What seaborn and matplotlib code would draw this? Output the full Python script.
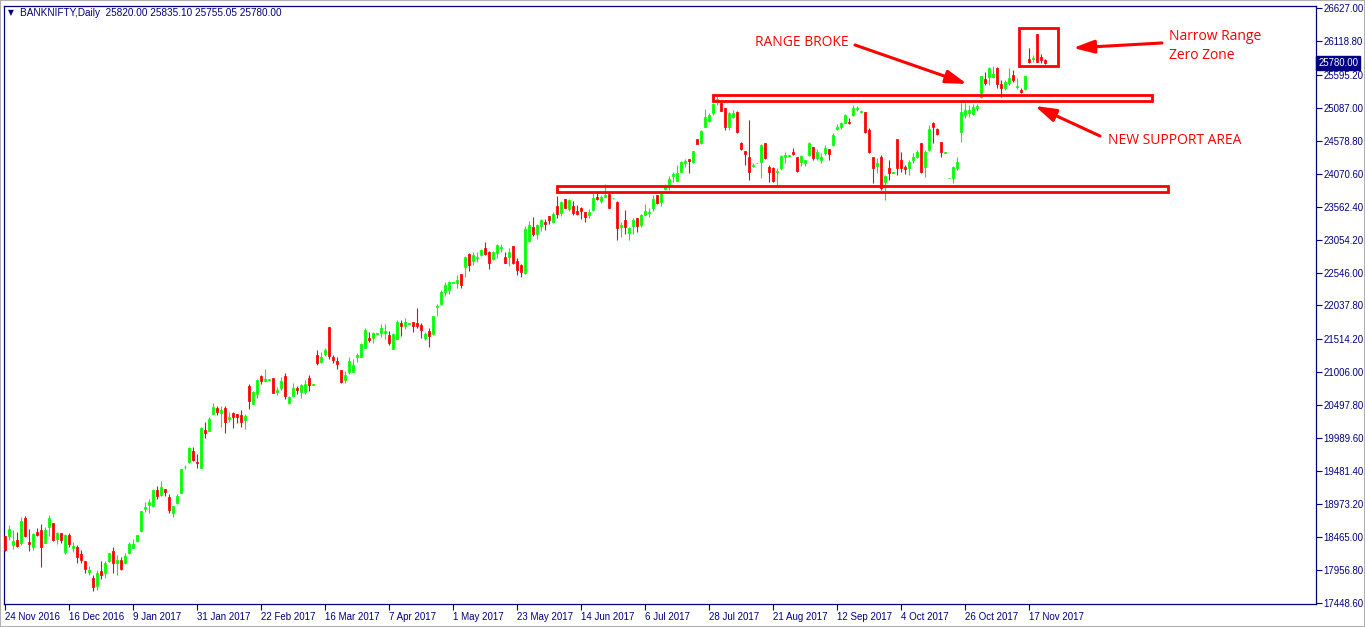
import numpy as np
import pandas as pd
import matplotlib
matplotlib.use("Agg")
import matplotlib.pyplot as plt
import seaborn as sns
from matplotlib.patches import Rectangle

SYMBOL = "BANKNIFTY,Daily"
header_ohlc = [25820.00, 25835.10, 25755.05, 25780.00]

# daily candles (bar 0 = 24 Nov 2016)
opens = [
    18483, 18483, 18344, 18421, 18379, 18760, 18390, 18317, 18544, 18575,
    18379, 18626, 18683, 18436, 18529, 18235, 18498, 18302, 18312, 18204,
    18097, 17932, 17835, 17711, 17943, 17907, 18097, 18251, 18066, 18112,
    18061, 18215, 18302, 18410, 18560, 18899, 18961, 18950, 19192, 19115,
    19207, 19084, 18832, 18992, 19150, 19542, 19629, 19794, 19624, 19536,
    20117, 20096, 20360, 20452, 20385, 20452, 20287, 20375, 20360, 20344,
    20277, 20796, 20523, 20677, 20950, 20873, 20894, 20919, 20708, 20770,
    20950, 20538, 20646, 20770, 20708, 20708, 20919, 20816, 21274, 21171,
    21289, 21706, 21243, 21181, 21043, 20889, 21012, 21012, 21248, 21248,
    21387, 21537, 21537, 21603, 21614, 21614, 21583, 21367, 21526, 21768,
    21722, 21757, 21783, 21768, 21737, 21541, 21645, 21598, 22014, 22061,
    22246, 22277, 22390, 22385, 22524, 22632, 22832, 22724, 22776, 22817,
    22925, 22863, 22755, 22848, 22930, 22786, 22786, 22956, 22724, 22662,
    22539, 23033, 23248, 23140, 23264, 23326, 23418, 23326, 23573, 23465,
    23681, 23526, 23573, 23495, 23542, 23480, 23434, 23511, 23711, 23650,
    23711, 23758, 23690, 23634, 23248, 23357, 23156, 23264, 23387, 23279,
    23434, 23465, 23542, 23742, 23634, 23835, 23912, 24035, 23958, 24097,
    24236, 24298, 24251, 24606, 24544, 24791, 24884, 25007, 25208, 25161,
    25084, 24791, 24945, 25023, 24544, 24421, 24328, 24189, 24236, 24251,
    24544, 24174, 24159, 24097, 24159, 24328, 24348, 24406, 24328, 24251,
    24236, 24359, 24483, 24313, 24282, 24390, 24452, 24514, 24760, 24791,
    24853, 24868, 24976, 25069, 25023, 25023, 24745, 24328, 24189, 24328,
    23943, 24159, 24081, 24606, 24282, 24174, 24159, 24282, 24328, 24544,
    24174, 24436, 24853, 24760, 24560, 24390, 23997, 24004, 24159, 24714,
    24976, 25007, 24992, 25084, 25254, 25532, 25562, 25562, 25701, 25454,
    25393, 25470, 25593, 25408, 25362, 25377, 25840, 25840, 26226, 25871,
    25820,
]
highs = [
    18483, 18652, 18575, 18544, 18775, 18791, 18590, 18524, 18606, 18668,
    18626, 18806, 18683, 18544, 18529, 18513, 18524, 18390, 18344, 18266,
    18097, 18020, 17881, 17958, 18097, 18097, 18220, 18317, 18189, 18163,
    18225, 18390, 18436, 18498, 18868, 19007, 19053, 19207, 19254, 19331,
    19207, 19130, 18945, 19126, 19516, 19577, 19855, 19855, 19747, 20164,
    20246, 20323, 20538, 20488, 20488, 20488, 20390, 20390, 20360, 20426,
    20360, 20827, 20723, 20904, 20965, 21058, 20904, 20919, 20781, 20935,
    20996, 20646, 20842, 20801, 20827, 20889, 20965, 20827, 21351, 21320,
    21382, 21706, 21274, 21243, 21043, 21027, 21243, 21212, 21305, 21459,
    21691, 21629, 21629, 21614, 21753, 21753, 21645, 21614, 21814, 21814,
    21845, 21768, 21783, 21999, 21768, 21629, 21691, 21876, 22061, 22277,
    22400, 22416, 22400, 22508, 22524, 22801, 22848, 22863, 22863, 22909,
    23017, 22878, 22878, 22986, 22986, 22863, 22925, 22956, 22770, 22678,
    23264, 23341, 23403, 23295, 23372, 23372, 23418, 23480, 23727, 23650,
    23681, 23681, 23650, 23588, 23557, 23480, 23526, 23773, 23773, 23742,
    23912, 23758, 23696, 23650, 23326, 23511, 23248, 23387, 23387, 23449,
    23604, 23542, 23742, 23742, 23804, 23912, 24035, 24097, 24205, 24267,
    24298, 24298, 24421, 24606, 24745, 25069, 25007, 25161, 25269, 25177,
    25084, 25023, 25053, 25038, 24560, 24421, 24899, 24236, 24243, 24529,
    24544, 24205, 24174, 24159, 24359, 24406, 24359, 24467, 24328, 24359,
    24282, 24560, 24483, 24452, 24390, 24514, 24452, 24699, 24837, 24868,
    24992, 24930, 25130, 25115, 25053, 25023, 24776, 24328, 24313, 24359,
    24050, 24282, 24089, 24606, 24406, 24205, 24282, 24390, 24436, 24544,
    24436, 24822, 24868, 24776, 24560, 24398, 24004, 24189, 24328, 25161,
    25161, 25130, 25146, 25146, 25578, 25639, 25717, 25732, 25717, 25516,
    25516, 25701, 25670, 25547, 25393, 25578, 26010, 25902, 26226, 25917,
    25835,
]
lows = [
    18255, 18421, 18281, 18317, 18344, 18472, 18251, 18266, 18483, 18009,
    18369, 18483, 18406, 18364, 18369, 18204, 18317, 18240, 18070, 18061,
    17907, 17881, 17638, 17649, 17824, 17835, 18081, 17917, 17881, 17958,
    18050, 18204, 18302, 18395, 18544, 18852, 18837, 18935, 19048, 19104,
    19104, 18832, 18770, 18971, 19141, 19516, 19613, 19644, 19526, 19536,
    19999, 20096, 20360, 20349, 20169, 20076, 20246, 20153, 20221, 20169,
    20138, 20441, 20523, 20615, 20831, 20863, 20894, 20692, 20662, 20739,
    20600, 20523, 20631, 20677, 20615, 20677, 20723, 20816, 21120, 21146,
    21258, 21212, 21155, 21058, 20842, 20842, 20981, 21012, 21166, 21243,
    21387, 21475, 21459, 21603, 21552, 21521, 21429, 21367, 21526, 21567,
    21675, 21757, 21634, 21691, 21541, 21506, 21402, 21583, 21876, 22045,
    22184, 22215, 22390, 22308, 22308, 22477, 22570, 22662, 22709, 22801,
    22817, 22601, 22740, 22770, 22863, 22693, 22647, 22678, 22508, 22477,
    22524, 23017, 23110, 23063, 23187, 23202, 23295, 23310, 23387, 23418,
    23542, 23495, 23434, 23434, 23372, 23326, 23387, 23495, 23665, 23619,
    23711, 23542, 23686, 23048, 23094, 23140, 23048, 23140, 23171, 23248,
    23418, 23403, 23495, 23604, 23573, 23819, 23819, 23943, 23958, 24097,
    24174, 24081, 24236, 24529, 24529, 24791, 24868, 24976, 25130, 25038,
    24745, 24745, 24930, 24698, 24436, 24205, 23974, 24174, 24236, 24004,
    24298, 23943, 23943, 23896, 24128, 24236, 24348, 24359, 24097, 24189,
    24189, 24344, 24282, 24282, 24236, 24359, 24282, 24498, 24745, 24760,
    24853, 24837, 24961, 25038, 25007, 24698, 24390, 23927, 24081, 23819,
    23665, 23974, 24081, 24050, 24097, 24066, 24050, 24236, 24313, 24081,
    24020, 24421, 24544, 24668, 24328, 24390, 23997, 23927, 24128, 24560,
    24930, 24945, 24976, 25038, 25239, 25439, 25439, 25547, 25393, 25254,
    25362, 25439, 25485, 25377, 25316, 25362, 25778, 25794, 25794, 25778,
    25755,
]
closes = [
    18266, 18590, 18410, 18333, 18714, 18483, 18364, 18513, 18498, 18317,
    18575, 18760, 18421, 18529, 18421, 18498, 18364, 18328, 18163, 18112,
    17973, 17958, 17701, 17912, 17881, 18066, 18220, 18061, 18112, 17973,
    18174, 18359, 18359, 18498, 18868, 18930, 19007, 19192, 19100, 19238,
    19161, 18883, 18945, 19104, 19516, 19552, 19840, 19655, 19613, 20153,
    20076, 20287, 20472, 20395, 20426, 20246, 20318, 20323, 20323, 20246,
    20329, 20569, 20708, 20889, 20873, 20904, 20904, 20692, 20739, 20873,
    20642, 20631, 20765, 20739, 20811, 20827, 20811, 20827, 21146, 21243,
    21351, 21258, 21197, 21135, 20858, 20965, 21181, 21120, 21279, 21444,
    21660, 21506, 21614, 21614, 21691, 21645, 21459, 21598, 21783, 21722,
    21783, 21768, 21722, 21722, 21660, 21598, 21567, 21876, 22030, 22246,
    22354, 22400, 22400, 22431, 22354, 22786, 22662, 22817, 22786, 22894,
    22832, 22693, 22863, 22971, 22940, 22693, 22863, 22693, 22585, 22554,
    23218, 23279, 23140, 23279, 23357, 23295, 23357, 23449, 23449, 23634,
    23542, 23665, 23465, 23449, 23495, 23403, 23480, 23696, 23681, 23711,
    23742, 23542, 23696, 23233, 23279, 23248, 23233, 23357, 23264, 23434,
    23495, 23480, 23681, 23619, 23758, 23881, 23989, 24066, 24081, 24251,
    24267, 24267, 24421, 24529, 24729, 24945, 24976, 25146, 25223, 25038,
    24791, 25007, 25007, 24714, 24452, 24375, 24097, 24205, 24243, 24514,
    24313, 24097, 23958, 24112, 24344, 24359, 24359, 24375, 24112, 24344,
    24282, 24544, 24313, 24406, 24328, 24467, 24375, 24668, 24791, 24853,
    24976, 24853, 25084, 25084, 25038, 24714, 24406, 24159, 24236, 23850,
    24035, 24081, 24089, 24159, 24159, 24143, 24251, 24328, 24406, 24097,
    24406, 24760, 24791, 24683, 24406, 24398, 24004, 24174, 24251, 25023,
    25053, 25053, 25100, 25115, 25578, 25470, 25701, 25609, 25454, 25393,
    25485, 25547, 25516, 25424, 25331, 25578, 25794, 25855, 25794, 25825,
    25780,
]

date_labels = ["24 Nov 2016", "16 Dec 2016", "9 Jan 2017", "31 Jan 2017",
               "22 Feb 2017", "16 Mar 2017", "7 Apr 2017", "1 May 2017",
               "23 May 2017", "14 Jun 2017", "6 Jul 2017", "28 Jul 2017",
               "21 Aug 2017", "12 Sep 2017", "4 Oct 2017", "26 Oct 2017",
               "17 Nov 2017"]
LABEL_STEP = 16  # one date label every 16 bars

price_ticks = [17448.6, 17956.8, 18465.0, 18973.2, 19481.4, 19989.6, 20497.8,
               21006.0, 21514.2, 22037.8, 22546.0, 23054.2, 23562.4, 24070.6,
               24578.8, 25087.0, 25595.2, 26118.8, 26627.0]

NAVY = "#000080"
UP = "#00ff00"
DOWN = "#ff0000"
MARK = "#ff0000"
AXIS_FONT = ["Liberation Sans", "DejaVu Sans"]

# ---------- frame ----------

df = pd.DataFrame({"open": opens, "high": highs, "low": lows, "close": closes})
df["bar"] = np.arange(len(df))
df["color"] = np.where(df["close"] >= df["open"], UP, DOWN)
df["body_lo"] = df[["open", "close"]].min(axis=1)
df["body_h"] = (df["close"] - df["open"]).abs()

sns.set_theme(style="white")
plt.rcParams["font.family"] = AXIS_FONT

W, H = 1365, 627
fig = plt.figure(figsize=(W / 100, H / 100), dpi=100)
fig.patch.set_facecolor("white")
ax = fig.add_axes([3.5 / W, 1 - 604 / H, (1316 - 3.5) / W, (604 - 5.5) / H])
ax.set_facecolor("white")

# ---------- candles ----------

ax.vlines(df["bar"], df["low"], df["high"], colors=df["color"], lw=0.8, zorder=2)
ax.bar(df["bar"], df["body_h"], bottom=df["body_lo"], width=0.62,
       color=df["color"], edgecolor=df["color"], linewidth=0.55, zorder=3)

ax.set_xlim(-0.375, 327.75)
ax.set_ylim(17433, 26665)

# ---------- axes ----------

for sp in ax.spines.values():
    sp.set_color(NAVY)
    sp.set_linewidth(0.9)
    sp.set_visible(True)

ax.yaxis.tick_right()
ax.set_yticks(price_ticks)
ax.set_yticklabels([f"{v:.2f}" for v in price_ticks])
ax.tick_params(axis="y", which="major", right=True, left=False, labelright=True,
               labelleft=False, direction="out", length=4, width=0.8,
               color=NAVY, labelcolor=NAVY, labelsize=6.9, pad=1.5)

ax.set_xticks(np.arange(len(date_labels)) * LABEL_STEP)
ax.set_xticklabels(date_labels, ha="left")
ax.tick_params(axis="x", which="major", bottom=True, direction="out", length=4,
               width=0.8, color=NAVY, labelcolor=NAVY, labelsize=7, pad=1.5)
ax.grid(False)

# current price tag
ax.annotate(f"{closes[-1]:.2f}", xy=(1.0, closes[-1]),
            xycoords=("axes fraction", "data"), xytext=(1.5, 0),
            textcoords="offset points", ha="left", va="center",
            fontsize=6.9, color="white", annotation_clip=False,
            bbox=dict(boxstyle="square,pad=0.2", fc=NAVY, ec=NAVY))

# header
fig.text(8 / W, 1 - 13 / H, "\u25BC", fontsize=5.5, color=NAVY, va="center",
         family=["DejaVu Sans"])
fig.text(20 / W, 1 - 13 / H,
         f"{SYMBOL}  " + " ".join(f"{v:.2f}" for v in header_ohlc),
         fontsize=7.2, color=NAVY, va="center")

# ---------- annotations ----------

ann_font = dict(color=MARK, fontsize=10, family=["Open Sans", "DejaVu Sans"],
                va="center", ha="left")
arrow = dict(arrowstyle="-|>,head_length=0.9,head_width=0.28", color=MARK,
             lw=2.2, shrinkA=0, shrinkB=0, mutation_scale=14)

upper_zone = (177, 25187, 286.75, 25280)
lower_zone = (138, 23784, 290.75, 23876)
nr_box = (253.5, 25732, 263.25, 26318)
for x0, y0, x1, y1 in (upper_zone, lower_zone, nr_box):
    ax.add_patch(Rectangle((x0, y0), x1 - x0, y1 - y0, fill=False,
                           edgecolor=MARK, lw=2.0, zorder=4))

ax.text(187.5, 26087, "RANGE BROKE", **ann_font)
ax.annotate("", xy=(240.5, 25455), xytext=(212.5, 26056), arrowprops=arrow)

ax.text(291, 26040, "Narrow Range\nZero Zone", linespacing=1.3, **ann_font)
ax.annotate("", xy=(267, 26010), xytext=(289.25, 26087), arrowprops=arrow)

ax.text(275.75, 24575, "NEW SUPPORT AREA", **ann_font)
ax.annotate("", xy=(257.5, 25115), xytext=(273.75, 24652), arrowprops=arrow)

# window edge
fig.add_artist(Rectangle((0, 0), 1, 1, transform=fig.transFigure, fill=False,
                         edgecolor="#b0b0b0", lw=1.5))

fig.savefig("out.png", dpi=100, facecolor="white")
